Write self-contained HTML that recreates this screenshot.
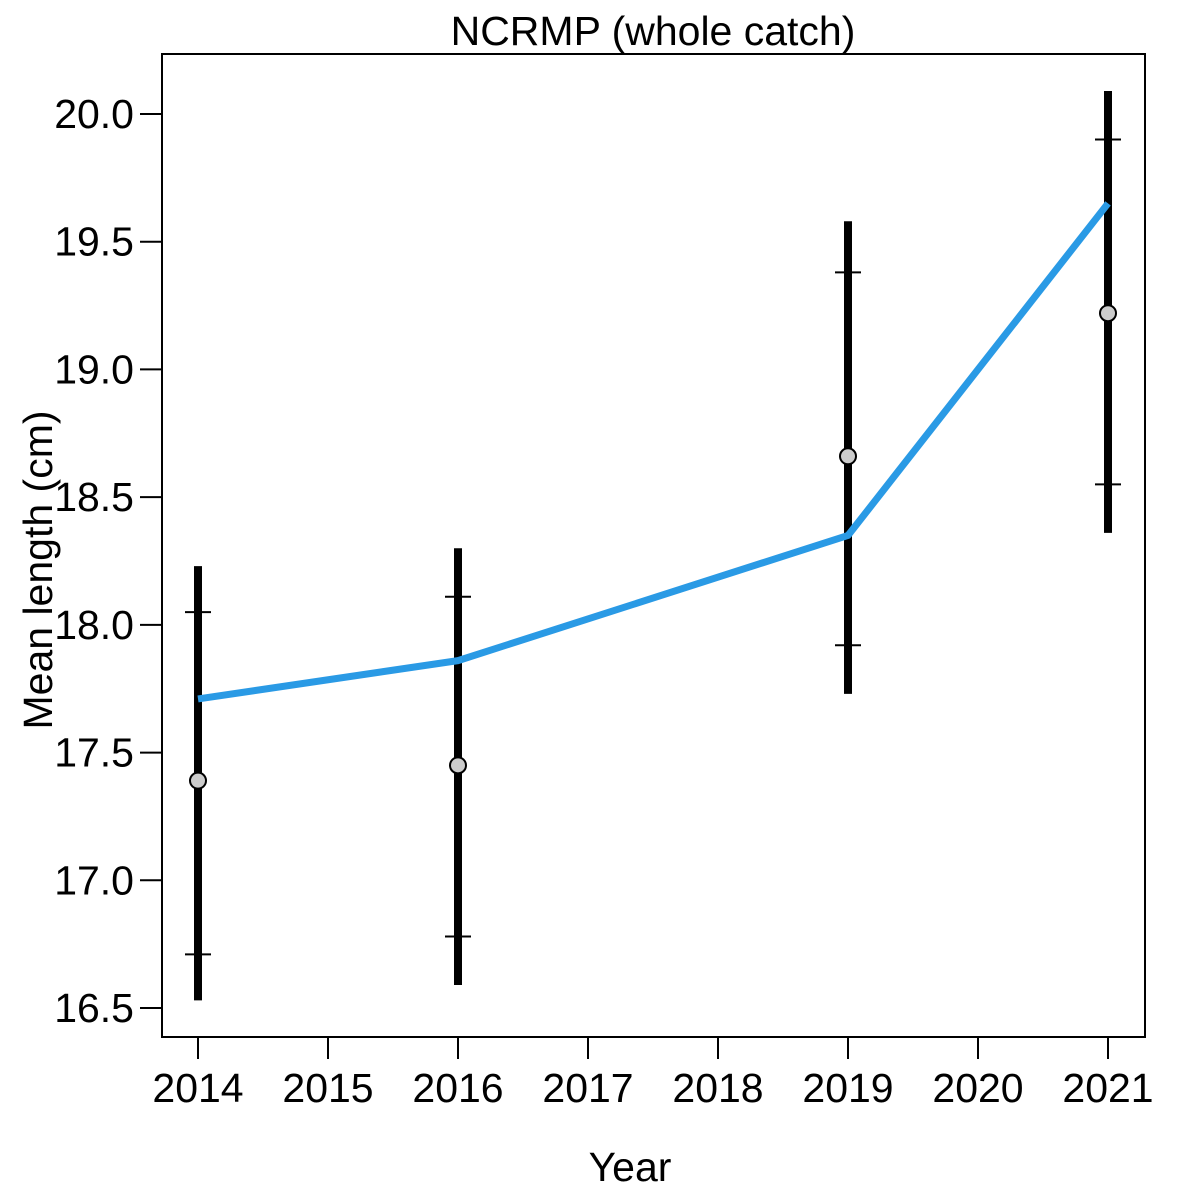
<!DOCTYPE html>
<html><head><meta charset="utf-8"><style>
html,body{margin:0;padding:0;background:#fff;}
svg{display:block;font-family:"Liberation Sans",Arial,sans-serif;}
</style></head><body>
<svg id="chart" width="1200" height="1200" viewBox="0 0 1200 1200">
<rect x="0" y="0" width="1200" height="1200" fill="#fff"/>
<text x="653" y="45" font-size="41" text-anchor="middle">NCRMP (whole catch)</text>
<rect x="162" y="54" width="983" height="983" fill="none" stroke="#000" stroke-width="2"/>
<g id="yaxis"></g>
<g id="xaxis"></g>
<text x="630" y="1181" font-size="41" text-anchor="middle">Year</text>
<text transform="translate(52,570) rotate(-90)" font-size="41" text-anchor="middle">Mean length (cm)</text>
<g id="marks"></g>
</svg>
<script>
const years = [2014, 2016, 2019, 2021];
const observed = [17.39, 17.45, 18.66, 19.22];
const lower95 = [16.53, 16.59, 17.73, 18.36];
const upper95 = [18.23, 18.30, 19.58, 20.09];
const lowerSE = [16.71, 16.78, 17.92, 18.55];
const upperSE = [18.05, 18.11, 19.38, 19.90];
const fitted = [17.71, 17.86, 18.35, 19.65];
const xTicks = [2014, 2015, 2016, 2017, 2018, 2019, 2020, 2021];
const yTicks = [16.5, 17.0, 17.5, 18.0, 18.5, 19.0, 19.5, 20.0];

const NS = "http://www.w3.org/2000/svg";
const xs = v => 198 + (v - 2014) * 130;
const ys = v => 114 + (20 - v) * 255.43;
function mk(tag, attrs, parent) {
  const e = document.createElementNS(NS, tag);
  for (const k in attrs) e.setAttribute(k, attrs[k]);
  parent.appendChild(e);
  return e;
}
const ya = document.getElementById('yaxis');
const xa = document.getElementById('xaxis');
const marks = document.getElementById('marks');
yTicks.forEach(t => {
  const l = mk('line', {x1: 162, x2: 140, y1: ys(t), y2: ys(t), stroke: '#000', 'stroke-width': 2}, ya);
  
  
  const tx = mk('text', {x: 134, y: ys(t) + 14, 'font-size': 41, 'text-anchor': 'end'}, ya);
  tx.textContent = t.toFixed(1);
  
  
});
xTicks.forEach(t => {
  const l = mk('line', {x1: xs(t), x2: xs(t), y1: 1037, y2: 1059, stroke: '#000', 'stroke-width': 2}, xa);
  
  
  const tx = mk('text', {x: xs(t), y: 1102, 'font-size': 41, 'text-anchor': 'middle'}, xa);
  tx.textContent = t;
  
  
});
years.forEach((yr, i) => {
  const x = xs(yr);
  const b = mk('line', {x1: x, x2: x, y1: ys(lower95[i]), y2: ys(upper95[i]), stroke: '#000', 'stroke-width': 8}, marks);
  
  
  [lowerSE[i], upperSE[i]].forEach(v => {
    const t = mk('line', {x1: x - 13, x2: x + 13, y1: ys(v), y2: ys(v), stroke: '#000', 'stroke-width': 2}, marks);
    
    
  });
});
const pl = mk('polyline', {points: years.map((y, i) => xs(y) + ',' + ys(fitted[i])).join(' '), fill: 'none', stroke: '#2a9ae5', 'stroke-width': 7, 'stroke-linejoin': 'round'}, marks);


years.forEach((yr, i) => {
  const c = mk('circle', {cx: xs(yr), cy: ys(observed[i]), r: 8, fill: '#cccccc', stroke: '#000', 'stroke-width': 2}, marks);
  
  
});
</script>
</body></html>
